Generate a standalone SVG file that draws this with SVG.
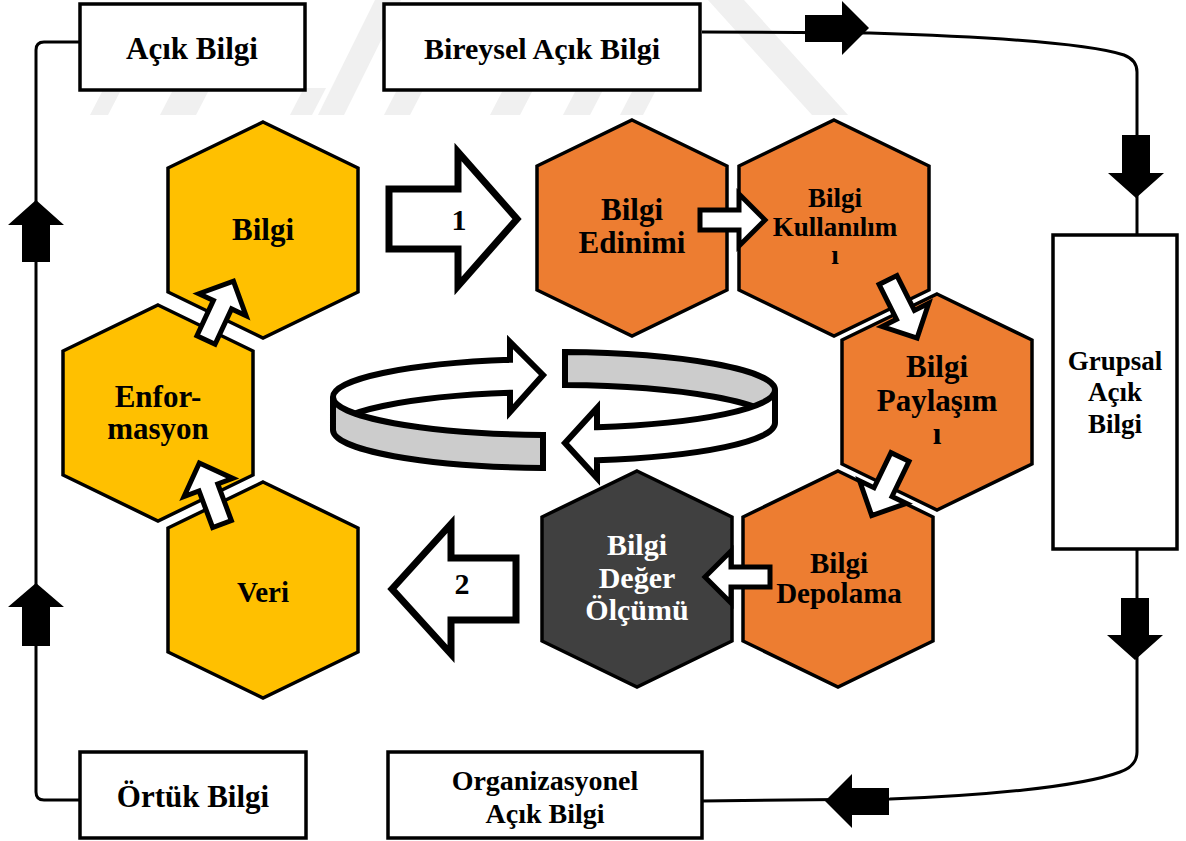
<svg xmlns="http://www.w3.org/2000/svg" xmlns:xlink="http://www.w3.org/1999/xlink" width="1186" height="841" viewBox="0 0 1186 841">
<style>
.t{font-family:"Liberation Serif","Times New Roman",serif;font-weight:bold;text-anchor:middle;fill:#000}
.w{fill:#fff}
.box{fill:#fff;stroke:#000;stroke-width:3.5}
.hex{stroke:#000;stroke-width:3.5;stroke-linejoin:miter}
.y{fill:#FFC000}
.o{fill:#ED7D31}
.d{fill:#404040}
.ln{fill:none;stroke:#000;stroke-width:3}
.blk{fill:#000;stroke:none}
.sa{fill:#fff;stroke:#000;stroke-width:5;stroke-linejoin:miter}
.ba{fill:#fff;stroke:#000;stroke-width:7;stroke-linejoin:miter}
.rib{stroke:#000;stroke-width:6;stroke-linejoin:miter}
.wm{fill:#f0f0f0}
</style>
<defs>
<polygon id="hex" points="0,-108 95,-62 95,62 0,108 -95,62 -95,-62"/>
<polygon id="sarrow" points="0,-10 39,-10 39,-26 65,0 39,26 39,10 0,10"/>
</defs>
<rect width="1186" height="841" fill="#fff"/>
<g id="watermark">
<polygon class="wm" points="318,115 344,115 401,0 375,0"/>
<polygon class="wm" points="708,0 744,0 848,115 812,115"/>
<polygon class="wm" points="90,115 108,115 122,88 104,88"/>
<polygon class="wm" points="160,115 196,115 210,88 174,88"/>
<polygon class="wm" points="290,115 312,115 326,88 304,88"/>
<polygon class="wm" points="384,115 410,115 424,88 398,88"/>
<polygon class="wm" points="490,115 520,115 534,88 504,88"/>
<polygon class="wm" points="563,115 590,115 604,88 577,88"/>
<polygon class="wm" points="620,115 643,115 657,88 634,88"/>
</g>
<g id="connectors">
<path class="ln" d="M 80 42 L 44 42 Q 36 42 36 50 L 36 792 Q 36 800 44 800 L 80 800"/>
<path class="ln" d="M 702 32 L 870 33 C 1000 37 1090 44 1124 55 Q 1137 60 1137 72 L 1137 235"/>
<path class="ln" d="M 1137 549 L 1137 752 Q 1137 766 1120 772 C 1080 787 980 796 890 799 L 702 801"/>
<polygon class="blk" points="805,15 842,15 842,1 869,28 842,55 842,42 805,42"/>
<polygon class="blk" points="1122,135 1150,135 1150,173 1164,173 1136,198 1108,173 1122,173"/>
<polygon class="blk" points="1121,598 1149,598 1149,635 1163,635 1135,660 1107,635 1121,635"/>
<polygon class="blk" points="889,788 852,788 852,774 825,801 852,828 852,815 889,815"/>
<polygon class="blk" points="22,262 22,225 8,225 36,200 64,225 50,225 50,262"/>
<polygon class="blk" points="22,646 22,607 8,607 36,583 64,607 50,607 50,646"/>
</g>
<g id="box-acik"><rect class="box" x="80" y="4" width="225" height="86"/><text class="t" x="192" y="59" font-size="31">Açık Bilgi</text></g>
<g id="box-bireysel"><rect class="box" x="384" y="4" width="316" height="86"/><text class="t" x="542" y="59" font-size="30">Bireysel Açık Bilgi</text></g>
<g id="box-grupsal"><rect class="box" x="1053" y="235" width="124" height="314"/>
<text class="t" x="1115" y="370" font-size="27">Grupsal</text><text class="t" x="1115" y="401" font-size="27">Açık</text><text class="t" x="1115" y="433" font-size="27">Bilgi</text></g>
<g id="box-ortuk"><rect class="box" x="80" y="752" width="226" height="86"/><text class="t" x="193" y="807" font-size="31">Örtük Bilgi</text></g>
<g id="box-organizasyonel"><rect class="box" x="388" y="752" width="314" height="86"/>
<text class="t" x="545" y="790" font-size="28">Organizasyonel</text><text class="t" x="545" y="823" font-size="28">Açık Bilgi</text></g>
<g id="hex-bilgi"><use href="#hex" class="hex y" x="263" y="230"/><text class="t" x="263" y="240" font-size="31">Bilgi</text></g>
<g id="hex-enformasyon"><use href="#hex" class="hex y" x="158" y="413"/><text class="t" x="158" y="407" font-size="31">Enfor-</text><text class="t" x="158" y="439" font-size="31">masyon</text></g>
<g id="hex-veri"><use href="#hex" class="hex y" x="263" y="590"/><text class="t" x="263" y="602" font-size="29">Veri</text></g>
<g id="hex-edinimi"><use href="#hex" class="hex o" x="632" y="228"/><text class="t" x="632" y="220" font-size="31">Bilgi</text><text class="t" x="632" y="253" font-size="31">Edinimi</text></g>
<g id="hex-kullanilim"><use href="#hex" class="hex o" x="834" y="228"/><text class="t" x="835" y="207" font-size="27">Bilgi</text><text class="t" x="835" y="236" font-size="27">Kullanılım</text><text class="t" x="835" y="264" font-size="27">ı</text></g>
<g id="hex-paylasim"><use href="#hex" class="hex o" x="937" y="402"/><text class="t" x="937" y="377" font-size="31">Bilgi</text><text class="t" x="937" y="411" font-size="31">Paylaşım</text><text class="t" x="937" y="444" font-size="31">ı</text></g>
<g id="hex-depolama"><use href="#hex" class="hex o" x="838" y="579"/><text class="t" x="839" y="573" font-size="29">Bilgi</text><text class="t" x="839" y="603" font-size="29">Depolama</text></g>
<g id="hex-deger"><use href="#hex" class="hex d" x="637" y="579"/><text class="t w" x="637" y="555" font-size="30">Bilgi</text><text class="t w" x="637" y="588" font-size="30">Değer</text><text class="t w" x="637" y="620" font-size="30">Ölçümü</text></g>
<g id="flow-arrows">
<use href="#sarrow" class="sa" transform="translate(222,524) rotate(-110.4)"/>
<use href="#sarrow" class="sa" transform="translate(206,340) rotate(-65)"/>
<use href="#sarrow" class="sa" transform="translate(700,220)"/>
<use href="#sarrow" class="sa" transform="translate(888,280) rotate(63.4)"/>
<use href="#sarrow" class="sa" transform="translate(900,457) rotate(115.8)"/>
<use href="#sarrow" class="sa" transform="translate(770,577) rotate(180)"/>
<polygon class="ba" points="389,189 458,189 458,152 517,219 458,286 458,249 389,249"/>
<text class="t" x="459" y="230" font-size="30">1</text>
<polygon class="ba" points="392,589 451,524 451,558 516,558 516,620 451,620 451,654"/>
<text class="t" x="462" y="594" font-size="30">2</text>
</g>
<g id="cycle">
<path class="rib" fill="#fff" d="M 333 397 A 221 38 0 0 1 510 359.8 L 510 342 L 543 375 L 510 412 L 510 392.8 A 221 38 0 0 0 333 430 Z"/>
<path class="rib" fill="#CCCCCC" d="M 333 397 A 221 38 0 0 0 543 434.95 L 543 467.95 A 221 38 0 0 1 333 430 Z"/>
<path class="rib" fill="#CCCCCC" d="M 565 352.05 A 221 38 0 0 1 775 390 L 775 423 A 221 38 0 0 0 565 385.05 Z"/>
<path class="rib" fill="#fff" d="M 775 390 A 221 38 0 0 1 597 427.27 L 597 408 L 565 443 L 597 478 L 597 460.27 A 221 38 0 0 0 775 423 Z"/>
</g>
</svg>
